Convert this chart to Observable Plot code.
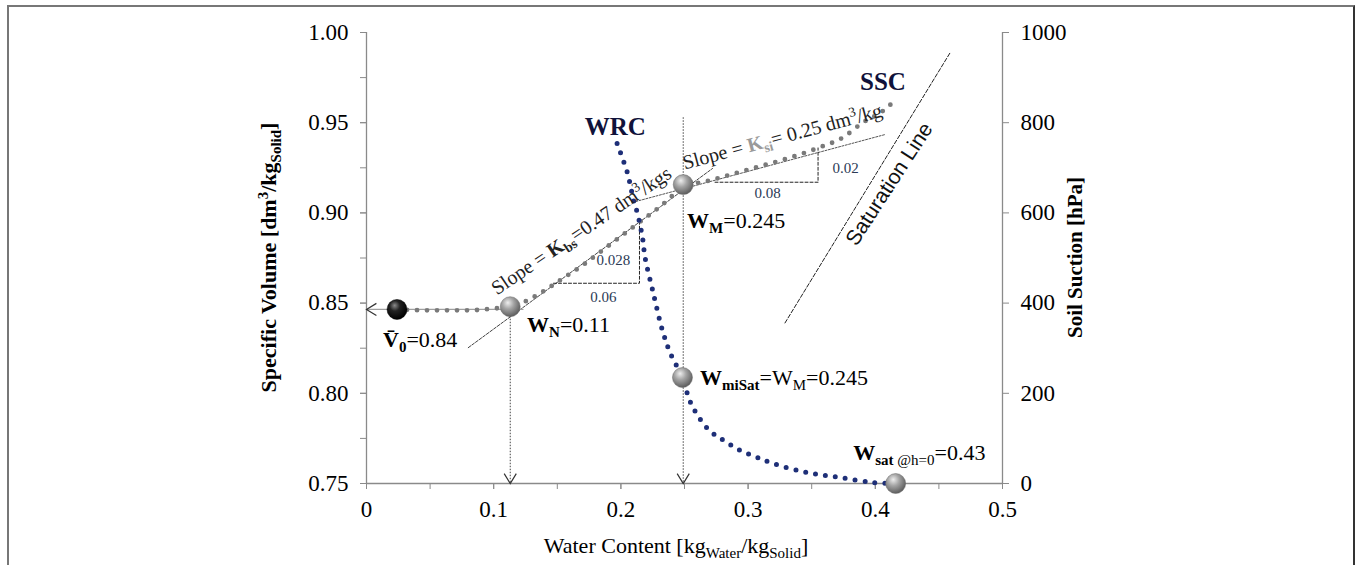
<!DOCTYPE html>
<html><head><meta charset="utf-8">
<script src="https://cdn.jsdelivr.net/npm/d3@7"></script>
<script src="https://cdn.jsdelivr.net/npm/@observablehq/plot@0.6"></script>
<style>
html,body{margin:0;padding:0;background:#fff;width:1356px;height:565px;overflow:hidden;}
#chart{position:absolute;left:0;top:0;}
#frame{position:absolute;left:7px;top:5px;width:1348px;height:640px;box-sizing:border-box;border-top:2px solid #777;border-left:2px solid #777;border-right:2px solid #333;pointer-events:none;}
</style></head><body>
<svg width="0" height="0" style="position:absolute">
  <defs>
    <radialGradient id="gball" cx="0.4" cy="0.35" r="0.65" fx="0.38" fy="0.3">
      <stop offset="0" stop-color="#eeeeee"/>
      <stop offset="0.45" stop-color="#a4a4a4"/>
      <stop offset="1" stop-color="#5e5e5e"/>
    </radialGradient>
    <radialGradient id="bball" cx="0.4" cy="0.35" r="0.65" fx="0.38" fy="0.3">
      <stop offset="0" stop-color="#8a8a8a"/>
      <stop offset="0.4" stop-color="#222"/>
      <stop offset="1" stop-color="#000"/>
    </radialGradient>
  </defs>
</svg>
<div id="chart"></div><div id="frame"></div>
<script>
// ---------- axes ----------
const xTicksMinor = [0, 0.05, 0.1, 0.15, 0.2, 0.25, 0.3, 0.35, 0.4, 0.45, 0.5];
const xTickLabels = [0, 0.1, 0.2, 0.3, 0.4, 0.5];
const yTicksMinor = [0.75, 0.775, 0.8, 0.825, 0.85, 0.875, 0.9, 0.925, 0.95, 0.975, 1.0];
const yTickLabels = [0.75, 0.80, 0.85, 0.90, 0.95, 1.00];
const suctionTicks = [0, 200, 400, 600, 800, 1000];

// ---------- SSC : specific volume vs water content ----------
const sscW = [0.024, 0.05, 0.08, 0.10, 0.113, 0.125, 0.14, 0.155, 0.17, 0.185, 0.20, 0.215, 0.23, 0.249, 0.27, 0.30, 0.33, 0.355, 0.375, 0.39, 0.405, 0.415];
const sscV = [0.8465, 0.846, 0.846, 0.847, 0.848, 0.851, 0.857, 0.864, 0.871, 0.879, 0.887, 0.895, 0.903, 0.914, 0.918, 0.924, 0.930, 0.936, 0.942, 0.950, 0.956, 0.962];

// ---------- WRC : soil suction [hPa] vs water content ----------
const wrcW = [0.197, 0.201, 0.205, 0.2075, 0.210, 0.213, 0.217, 0.219, 0.225, 0.2327, 0.239, 0.2484, 0.2547, 0.268, 0.281, 0.294, 0.307, 0.320, 0.347, 0.373, 0.399, 0.416];
const wrcH = [754, 723, 690, 661, 627, 599, 545, 501, 428, 339, 288, 235, 180, 122, 95, 73, 58, 44, 24, 13, 2, 0];

// ---------- key points ----------
const v0W = [0.024], v0V = [0.8465];
const sscPtW = [0.113, 0.249], sscPtV = [0.848, 0.9157];
const wrcPtW = [0.2484, 0.416], wrcPtH = [235, 0];

// ---------- construction lines ----------
const kbsLineW = [0.080, 0.272], kbsLineV = [0.8253, 0.9246];
const ksiLineW = [0.209, 0.408], ksiLineV = [0.9058, 0.9435];
const kbsTriW = [0.147, 0.2146, 0.2146], kbsTriV = [0.861, 0.861, 0.8949];
const ksiTriW = [0.274, 0.355, 0.355], ksiTriV = [0.917, 0.917, 0.936];
const satW = [0.329, 0.459], satV = [0.839, 0.989];
const dropW = [0.113, 0.249], dropTop = [0.848, 0.953];
const v0LineW = [0, 0.123], v0LineV = [0.8465, 0.8465];

// ---------- texts ----------
const triLabelText = ["0.06", "0.028", "0.08", "0.02"];
const triLabelW = [0.1863, 0.194, 0.3153, 0.3766];
const triLabelV = [0.8531, 0.8736, 0.9108, 0.9246];

const annW = [0.0134, 0.1266, 0.2524, 0.2626, 0.383];
const annV = [0.8254, 0.8337, 0.8914, null, null];
const annH = [null, null, null, 217, 51];
const annParts = [
  [["V\u0304", "b"], ["0", "b_"], ["=0.84", ""]],
  [["W", "b"], ["N", "b_"], ["=0.11", ""]],
  [["W", "b"], ["M", "b_"], ["=0.245", ""]],
  [["W", "b"], ["miSat", "b_"], ["=W", ""], ["M", "_"], ["=0.245", ""]],
  [["W", "b"], ["sat", "b_"], [" @h=0", "_"], ["=0.43", ""]]
];
const curveNameText = [[["WRC", "b"]], [["SSC", "b"]]];
const curveNameW = [0.172, 0.3884], curveNameV = [0.943, 0.968];

const slopeW = [0.1722, 0.3286], slopeV = [0.8869, 0.9385], slopeAngle = [-34, -15];
const slopeParts = [
  [["Slope = ", ""], ["K", "b"], ["bs", "b_"], ["=0.47 dm", ""], ["3", "^"], ["/kgs", ""]],
  [["Slope = ", ""], ["K", "gb"], ["si", "gb_"], ["= 0.25 dm", ""], ["3", "^"], ["/kg", ""]]
];
const satLabel = ["Saturation Line"], satLabelW = [0.411], satLabelV = [0.916];

const yTitle = [["Specific Volume [dm", "b"], ["3", "b^"], ["/kg", "b"], ["Solid", "b_"], ["]", "b"]];
const y2Title = [["Soil Suction [hPa]", "b"]];
const xTitle = [["Water Content [kg", ""], ["Water", "_"], ["/kg", ""], ["Solid", "_"], ["]", ""]];

// ---------- helpers ----------
const SERIF = "'Liberation Serif','Times New Roman',serif";
const SANS = "'Liberation Sans',Arial,sans-serif";
const NS = "http://www.w3.org/2000/svg";
const suc = h => 0.75 + h * 0.00025;          // suction (hPa) -> left-axis units
const idx = a => a.map((_, i) => i);

function appendParts(t, segs, size) {
  let shift = 0;
  for (const [txt, kind] of segs) {
    const ts = document.createElementNS(NS, "tspan");
    ts.textContent = txt;
    let target = 0;
    if (kind.includes("_")) target = 0.22 * size;
    if (kind.includes("^")) target = -0.38 * size;
    if (target !== shift) ts.setAttribute("dy", target - shift);
    shift = target;
    if (kind.includes("_") || kind.includes("^")) ts.setAttribute("font-size", (0.68 * size).toFixed(1));
    if (kind.includes("b")) ts.setAttribute("font-weight", "bold");
    if (kind.includes("g")) ts.setAttribute("fill", "#9a9a9a");
    t.appendChild(ts);
  }
}
function richText(xs, ys, parts, {size = 22, rotate = [], anchor = "start", family = SERIF, fill = "#000"} = {}) {
  return (index, scales) => {
    const g = document.createElementNS(NS, "g");
    xs.forEach((xv, i) => {
      const t = document.createElementNS(NS, "text");
      t.setAttribute("transform", `translate(${scales.x(xv)},${scales.y(ys[i])}) rotate(${rotate[i] ?? 0})`);
      t.setAttribute("font-family", family);
      t.setAttribute("font-size", size);
      t.setAttribute("text-anchor", anchor);
      t.setAttribute("fill", fill);
      appendParts(t, parts[i], size);
      g.appendChild(t);
    });
    return g;
  };
}
function titleText(pos, parts, {size = 21, rotate = 0} = {}) {
  return (index, scales, values, dims) => {
    const [px, py] = pos(dims);
    const t = document.createElementNS(NS, "text");
    t.setAttribute("transform", `translate(${px},${py}) rotate(${rotate})`);
    t.setAttribute("font-family", SERIF);
    t.setAttribute("font-size", size);
    t.setAttribute("text-anchor", "middle");
    t.setAttribute("fill", "#000");
    appendParts(t, parts, size);
    return t;
  };
}
const chevron = {
  draw(ctx, size) {
    const r = Math.sqrt(size / Math.PI);
    ctx.moveTo(-r * 1.1, -r * 1.8);
    ctx.lineTo(0, 0);
    ctx.lineTo(r * 1.1, -r * 1.8);
  }
};
const AX = "#8a8a8a";
const TICKFONT = 23;

const chart = Plot.plot({
  width: 1356,
  height: 565,
  marginLeft: 366,
  marginRight: 354,
  marginTop: 32,
  marginBottom: 82,
  x: {domain: [0, 0.5]},
  y: {domain: [0.75, 1.0]},
  style: {fontFamily: SERIF, fontSize: "22px", color: "#000", background: "transparent"},
  marks: [
    // axes
    Plot.axisX({ticks: xTicksMinor, tickFormat: () => "", tickSize: 6, stroke: AX, label: null}),
    Plot.axisX({ticks: xTickLabels, tickFormat: d => String(d), tickSize: 6, tickPadding: 11, stroke: AX, fill: "#000", fontSize: TICKFONT, label: null}),
    Plot.axisY({ticks: yTicksMinor, tickFormat: () => "", tickSize: 6, stroke: AX, label: null}),
    Plot.axisY({ticks: yTickLabels, tickFormat: d3.format(".2f"), tickSize: 6, tickPadding: 12, stroke: AX, fill: "#000", fontSize: TICKFONT, label: null}),
    Plot.axisY({anchor: "right", ticks: suctionTicks.map(suc), tickFormat: d => String(Math.round((d - 0.75) * 4000)), tickSize: 6, tickPadding: 12, stroke: AX, fill: "#000", fontSize: TICKFONT, label: null}),
    Plot.ruleX([0, 0.5], {stroke: AX, strokeWidth: 1.3}),
    Plot.ruleY([0.75], {stroke: AX, strokeWidth: 1.3}),
    // axis titles
    titleText(d => [d.marginLeft - 90, (d.marginTop + d.height - d.marginBottom) / 2], yTitle, {size: 22, rotate: -90}),
    titleText(d => [d.width - d.marginRight + 80, (d.marginTop + d.height - d.marginBottom) / 2], y2Title, {size: 21, rotate: -90}),
    titleText(d => [(d.marginLeft + d.width - d.marginRight) / 2 - 8, d.height - 12], xTitle, {size: 22}),
    // saturation line
    Plot.line(idx(satW), {x: satW, y: satV, stroke: "#222", strokeWidth: 1, strokeDasharray: "4 2"}),
    Plot.text(satLabel, {x: satLabelW, y: satLabelV, text: d => d, rotate: -57, fontFamily: SANS, fontSize: 21, fill: "#111"}),
    // tangent lines and slope triangles
    Plot.line(idx(kbsLineW), {x: kbsLineW, y: kbsLineV, stroke: "#444", strokeWidth: 1, strokeDasharray: "3 1.5"}),
    Plot.line(idx(ksiLineW), {x: ksiLineW, y: ksiLineV, stroke: "#555", strokeWidth: 1, strokeDasharray: "2 1.5"}),
    Plot.line(idx(kbsTriW), {x: kbsTriW, y: kbsTriV, stroke: "#222", strokeWidth: 1, strokeDasharray: "3 2"}),
    Plot.line(idx(ksiTriW), {x: ksiTriW, y: ksiTriV, stroke: "#222", strokeWidth: 1, strokeDasharray: "3 2"}),
    Plot.text(triLabelText, {x: triLabelW, y: triLabelV, text: d => d, fontFamily: SERIF, fontSize: 15, fill: "#2b3a55"}),
    // drop lines and guide
    Plot.link(idx(dropW), {x1: dropW, x2: dropW, y1: dropTop, y2: dropW.map(() => 0.75), stroke: "#444", strokeWidth: 1, strokeDasharray: "1.5 1.5"}),
    Plot.line(idx(v0LineW), {x: v0LineW, y: v0LineV, stroke: "#a0a0a0", strokeWidth: 1.2}),
    Plot.dot(idx(dropW), {x: dropW, y: dropW.map(() => 0.75), symbol: chevron, r: 5.5, fill: "none", stroke: "#333", strokeWidth: 1.2}),
    Plot.dot([0], {x: [0], y: v0V, symbol: chevron, r: 5.5, rotate: 90, fill: "none", stroke: "#333", strokeWidth: 1.2}),
    // curves
    Plot.line(idx(sscW), {x: sscW, y: sscV, stroke: "#7a7a7a", strokeWidth: 4.8, strokeDasharray: "0 10", strokeLinecap: "round", curve: "monotone-x"}),
    Plot.line(idx(wrcW), {x: wrcW, y: wrcH.map(suc), stroke: "#1e2f78", strokeWidth: 5, strokeDasharray: "0 10", strokeLinecap: "round", curve: "catmull-rom"}),
    // points
    Plot.dot(idx(sscPtW), {x: sscPtW, y: sscPtV, r: 10, fill: "url(#gball)", stroke: "#6a6a6a", strokeWidth: 0.5}),
    Plot.dot(idx(wrcPtW), {x: wrcPtW, y: wrcPtH.map(suc), r: 10, fill: "url(#gball)", stroke: "#6a6a6a", strokeWidth: 0.5}),
    Plot.dot(v0W, {x: v0W, y: v0V, r: 10, fill: "url(#bball)", stroke: "#000", strokeWidth: 0.5}),
    // annotations
    richText(annW, annV.map((v, i) => v ?? suc(annH[i])), annParts, {size: 22}),
    richText(curveNameW, curveNameV, curveNameText, {size: 25, fill: "#10123a"}),
    richText(slopeW, slopeV, slopeParts, {size: 20, rotate: slopeAngle, anchor: "middle", fill: "#222"})
  ]
});
document.getElementById("chart").appendChild(chart);
</script>
</body></html>
